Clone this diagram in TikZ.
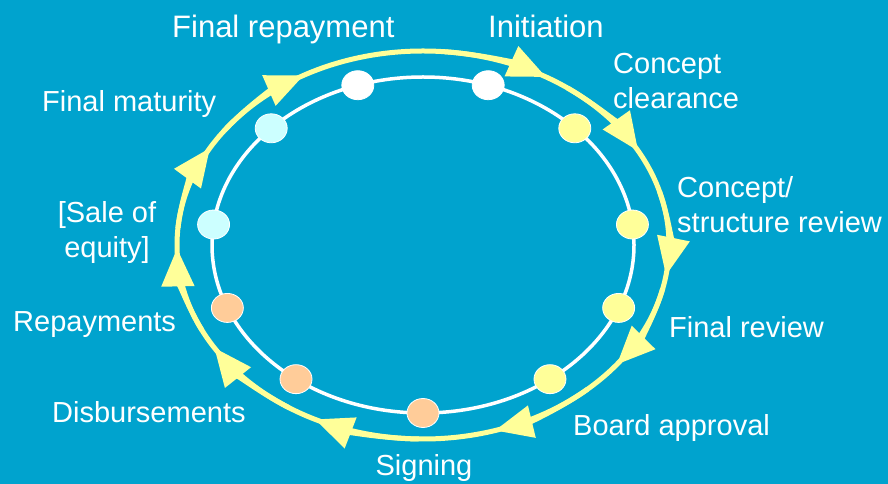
\documentclass[tikz,border=0pt]{standalone}
\usepackage{fontspec}
\setmainfont{Liberation Sans}
\usetikzlibrary{arrows.meta,shapes.geometric}
\definecolor{bgblue}{RGB}{0,163,206}
\definecolor{ringyellow}{HTML}{FFFF99}
\definecolor{dotpeach}{HTML}{FFCC99}
\definecolor{dotcyan}{HTML}{CCFFFF}

\begin{document}
\begin{tikzpicture}[x=1pt,y=1pt,>={Triangle[length=38pt,width=32pt]}]
  \tikzset{ring/.style={draw=ringyellow,line width=5pt},
    dot/.style={ellipse,draw=white,line width=0.8pt,minimum width=32pt,minimum height=29pt,inner sep=0pt},
    lbl/.style={text=white,font=\fontsize{29}{34.5}\selectfont,inner sep=0pt},
    toplbl/.style={lbl,font=\fontsize{31}{36}\selectfont}}
  \fill[bgblue] (0,0) rectangle (888,484);
  \begin{scope}[shift={(423,239)}]
    \draw[ring] (0,0) ellipse [x radius=246, y radius=194];
    \foreach \t in {60,29,-9,-38,-73,-116,-148,-179,-210,-241}
      \draw[ring,->] (\t+25:246 and 194) arc [start angle=\t+25, end angle=\t, x radius=246, y radius=194];
    \draw[white,line width=3.5pt] (0,0) ellipse [x radius=211, y radius=168];
    \foreach \a/\c [count=\i] in {108/white,72/white,44/ringyellow,7/ringyellow,-22/ringyellow,-53/ringyellow,-90/dotpeach,233/dotpeach,202/dotpeach,173/dotcyan,136/dotcyan}
      \node[dot,fill=\c] (dot\i) at (\a:211 and 168) {};
  \end{scope}
  \node[toplbl,anchor=base west] (finalrep) at (172,446) {Final repayment};
  \node[toplbl,anchor=base west] (init) at (488,446) {Initiation};
  \node[lbl,anchor=west,align=left] (clear) at (613,403) {Concept\\clearance};
  \node[lbl,anchor=west,align=left] (review) at (677,279.5) {Concept/\\structure review};
  \node[lbl,anchor=base west] (finalrev) at (669,146.5) {Final review};
  \node[lbl,anchor=base west] (board) at (573,48.5) {Board approval};
  \node[lbl,anchor=base] (sign) at (424,8.5) {Signing};
  \node[lbl,anchor=base west] (disb) at (52,61) {Disbursements};
  \node[lbl,anchor=base west] (repay) at (13,152) {Repayments};
  \node[lbl,align=center] (equity) at (107,251.5) {[Sale of\\equity]};
  \node[lbl,anchor=base west] (maturity) at (42,372) {Final maturity};
\end{tikzpicture}
\end{document}
